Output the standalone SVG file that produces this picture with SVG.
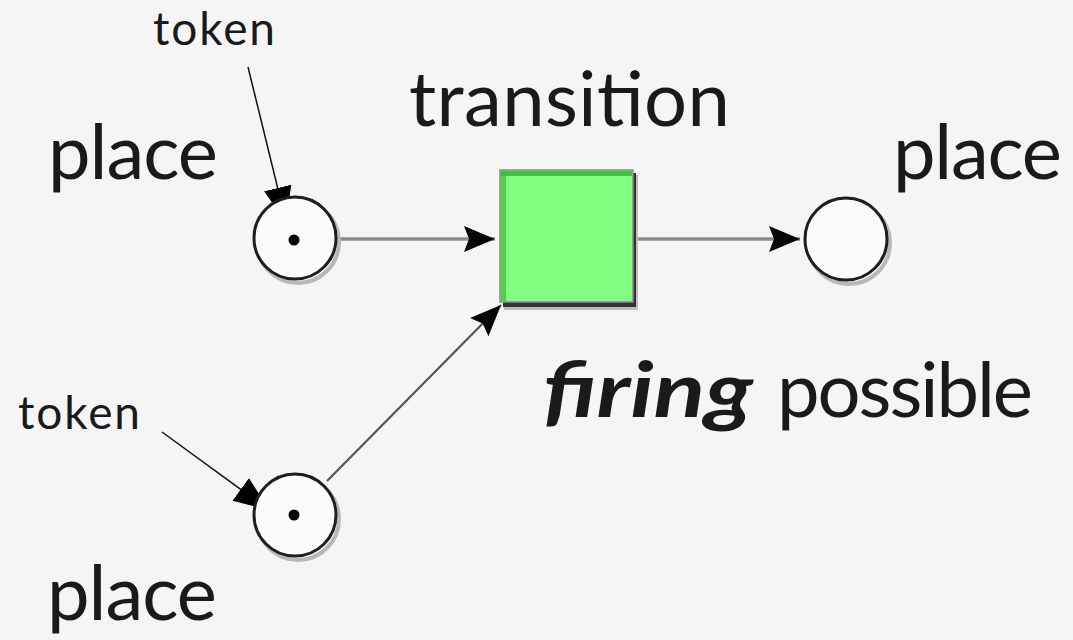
<svg xmlns="http://www.w3.org/2000/svg" width="1073" height="640" viewBox="0 0 1073 640">
<defs>
<style>
.lbl{font-family:Lato,"Open Sans","Liberation Sans",sans-serif;fill:#1a1a1a;}
.big{font-size:76px;}
.sm{font-size:46px;}
.place{fill:#fbfbfb;stroke:#1e1e1e;stroke-width:3;}
.shadow{fill:none;stroke:#b8b8b8;stroke-width:4;}
.arc{stroke:#8a8a8a;stroke-width:3.5;fill:none;}
.diag{stroke:#555;stroke-width:2.2;fill:none;}
.ptr{stroke:#111;stroke-width:1.5;fill:none;}
</style>
<marker id="ah" markerUnits="userSpaceOnUse" markerWidth="34" markerHeight="28" refX="31" refY="14" orient="auto">
<path d="M0,1 L31,14 L0,27 L5,14 Z" fill="#050505"/>
</marker>
<marker id="tk" markerUnits="userSpaceOnUse" markerWidth="36" markerHeight="30" refX="35" refY="15" orient="auto">
<path d="M0,1 L35,15 L0,29 Z" fill="#000"/>
</marker>
</defs>
<rect width="1073" height="640" fill="#f5f5f5"/>

<g id="connectors">
<line class="arc" x1="338" y1="239" x2="495" y2="239" marker-end="url(#ah)"/>
<line class="arc" x1="636" y1="239" x2="800" y2="239" marker-end="url(#ah)"/>
<line class="diag" x1="327" y1="481" x2="501" y2="305" marker-end="url(#ah)"/>
<line class="ptr" x1="248" y1="67" x2="286" y2="222" marker-end="url(#tk)"/>
<line class="ptr" x1="162" y1="432" x2="269" y2="510" marker-end="url(#tk)"/>
</g>

<g id="place1">
<circle class="shadow" cx="298" cy="242" r="41"/>
<circle class="place" cx="295" cy="238" r="41"/>
<circle cx="294" cy="240" r="5.5" fill="#000"/>
</g>

<g id="place2">
<circle class="shadow" cx="298" cy="519" r="41"/>
<circle class="place" cx="295" cy="515" r="41"/>
<circle cx="294" cy="515" r="5.5" fill="#000"/>
</g>

<g id="place3">
<circle class="shadow" cx="849" cy="243" r="41"/>
<circle class="place" cx="846" cy="239" r="41"/>
</g>

<g id="transition">
<rect x="504" y="175" width="134" height="135" fill="#bdbdbd"/>
<rect x="503" y="173" width="133" height="134" fill="#333"/>
<rect x="500" y="170" width="133" height="132" fill="#80ff80" stroke="#8a8a8a" stroke-width="1.5"/>
<rect x="501" y="171" width="131" height="5" fill="#3db83d" opacity="0.9"/>
<rect x="501" y="171" width="5" height="130" fill="#3db83d" opacity="0.7"/>
</g>

<g id="labels">
<text class="lbl sm" x="153" y="45" textLength="122">token</text>
<text class="lbl sm" x="18" y="429" textLength="122">token</text>
<text class="lbl big" x="48" y="179" textLength="170">place</text>
<text class="lbl big" x="893" y="179" textLength="169">place</text>
<text class="lbl big" x="47" y="620" textLength="170">place</text>
<text class="lbl big" x="409" y="126" textLength="321">transition</text>
<text class="lbl big" x="543" y="417" font-weight="bold" font-style="italic" textLength="210" lengthAdjust="spacingAndGlyphs">firing</text>
<text class="lbl big" x="777" y="417" textLength="256">possible</text>
</g>
</svg>
